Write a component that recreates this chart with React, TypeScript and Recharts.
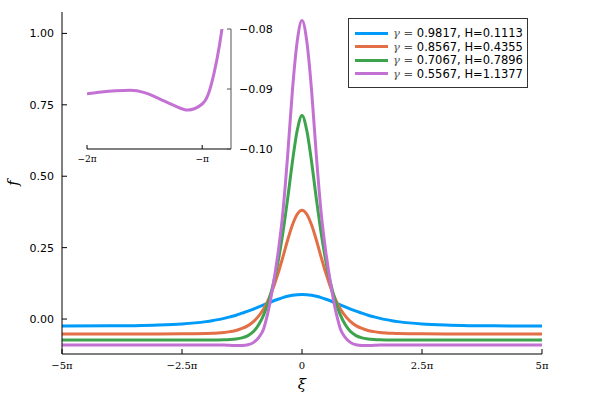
import { Line, LineChart, XAxis, YAxis } from "recharts";

// ξ positions, in units of π
const xs = [
  -5, -4, -3.5, -3, -2.5, -2, -1.875, -1.75, -1.625, -1.5, -1.375, -1.25, -1.125, -1, -0.9, -0.8, -0.75, -0.7, -0.6, -0.5,
  -0.4, -0.3, -0.2, -0.1, 0, 0.1, 0.2, 0.3, 0.4, 0.5, 0.6, 0.7, 0.75, 0.8, 0.9, 1, 1.125, 1.25, 1.375, 1.5, 1.625, 1.75,
  1.875, 2, 2.5, 3, 3.5, 4, 5,
];

const blue = [
  -0.0244, -0.0239, -0.0231, -0.0213, -0.0174, -0.009, -0.0059, -0.0021, 0.0024, 0.0076, 0.0134, 0.0205, 0.0276, 0.0357,
  0.0424, 0.0494, 0.0529, 0.0564, 0.0631, 0.0693, 0.0749, 0.0796, 0.0831, 0.0853, 0.086, 0.0853, 0.0831, 0.0796, 0.0749,
  0.0693, 0.0631, 0.0564, 0.0529, 0.0494, 0.0424, 0.0357, 0.0276, 0.0205, 0.0134, 0.0076, 0.0024, -0.0021, -0.0059, -0.009,
  -0.0174, -0.0213, -0.0231, -0.0239, -0.0244,
];

const orange = [
  -0.052, -0.052, -0.052, -0.052, -0.0518, -0.0506, -0.05, -0.0488, -0.047, -0.044, -0.04, -0.033, -0.023, -0.007, 0.011,
  0.035, 0.05, 0.068, 0.109, 0.159, 0.216, 0.276, 0.329, 0.367, 0.381, 0.367, 0.329, 0.276, 0.216, 0.159, 0.109, 0.068, 0.05,
  0.035, 0.011, -0.007, -0.023, -0.033, -0.04, -0.044, -0.047, -0.0488, -0.05, -0.0506, -0.0518, -0.052, -0.052, -0.052,
  -0.052,
];

const green = [
  -0.073, -0.073, -0.073, -0.073, -0.073, -0.073, -0.073, -0.073, -0.0728, -0.072, -0.07, -0.066, -0.058, -0.042, -0.019,
  0.014, 0.035, 0.06, 0.122, 0.2, 0.3, 0.42, 0.55, 0.66, 0.713, 0.66, 0.55, 0.42, 0.3, 0.2, 0.122, 0.06, 0.035, 0.014,
  -0.019, -0.042, -0.058, -0.066, -0.07, -0.072, -0.0728, -0.073, -0.073, -0.073, -0.073, -0.073, -0.073, -0.073, -0.073,
];

const purple = [
  -0.0908, -0.0908, -0.0908, -0.0908, -0.0908, -0.0908, -0.0906, -0.0906, -0.091, -0.092, -0.0928, -0.0925, -0.0902,
  -0.081, -0.064, -0.035, -0.005, 0.03, 0.12, 0.23, 0.37, 0.57, 0.8, 0.972, 1.045, 0.972, 0.8, 0.57, 0.37, 0.23, 0.12, 0.03,
  -0.005, -0.035, -0.064, -0.081, -0.0902, -0.0925, -0.0928, -0.092, -0.091, -0.0906, -0.0906, -0.0908, -0.0908, -0.0908,
  -0.0908, -0.0908, -0.0908,
];

// inset: close-up of the left tail of the last curve
const insetX = [-2, -1.875, -1.75, -1.625, -1.5, -1.375, -1.25, -1.125, -1, -0.95, -0.9, -0.85, -0.8];
const insetY = [
  -0.0908, -0.0905, -0.0903, -0.0902, -0.0906, -0.0916, -0.0927, -0.0935, -0.0925, -0.091, -0.0876, -0.0827, -0.076,
];

const gammas = ["0.9817", "0.8567", "0.7067", "0.5567"];
const hValues = ["0.1113", "0.4355", "0.7896", "1.1377"];
const colors = ["#009AF9", "#E26F46", "#3DA44D", "#C371D2"];
const keys = ["b", "o", "g", "p"];

const xTicks = [-5, -2.5, 0, 2.5, 5];
const yTicks = [0, 0.25, 0.5, 0.75, 1];
const insetXTicks = [-2, -1];
const insetYTicks = [-0.1, -0.09, -0.08];

const data = xs.map((x, i) => ({ x, b: blue[i], o: orange[i], g: green[i], p: purple[i] }));
const insetData = insetX.map((x, i) => ({ x, p: insetY[i] }));

const SERIF = "'DejaVu Serif', 'Liberation Serif', serif";
const SANS = "'DejaVu Sans', sans-serif";

function piLabel(v: number) {
  if (v === 0) return "0";
  const sign = v < 0 ? "\u2212" : "";
  const a = Math.abs(v);
  return sign + (a === 1 ? "" : String(a)) + "\u03c0";
}

function num(v: number) {
  return v.toFixed(2).replace("-", "\u2212");
}

const LeftTick = ({ x, y, payload }: any) => (
  <g>
    <line x1={x} x2={x + 5} y1={y} y2={y} stroke="#000" />
    <text x={x - 8} y={y} dy={4} textAnchor="end" fontSize={11} fontFamily={SANS} fill="#000">
      {num(payload.value)}
    </text>
  </g>
);

const BottomTick = ({ x, y, payload }: any) => (
  <g>
    <line x1={x} x2={x} y1={y} y2={y - 5} stroke="#000" />
    <text x={x} y={y + 15} textAnchor="middle" fontSize={10} fontFamily={SERIF} fill="#000">
      {piLabel(payload.value)}
    </text>
  </g>
);

const RightTick = ({ x, y, payload }: any) => (
  <g>
    <line x1={x} x2={x - 4} y1={y} y2={y} stroke="#555" />
    <text x={x + 8} y={y} dy={4} textAnchor="start" fontSize={11} fontFamily={SANS} fill="#000">
      {num(payload.value)}
    </text>
  </g>
);

const InsetBottomTick = ({ x, y, payload }: any) => (
  <g>
    <line x1={x} x2={x} y1={y} y2={y - 4} stroke="#000" />
    <text x={x} y={y + 13} textAnchor="middle" fontSize={9} fontFamily={SERIF} fill="#000">
      {piLabel(payload.value)}
    </text>
  </g>
);

export default function App() {
  return (
    <div style={{ position: "relative", width: 600, height: 400, background: "#fff" }}>
      <style>{"body{margin:0}"}</style>
      <LineChart width={600} height={400} data={data} margin={{ top: 12, right: 58, bottom: 16, left: 12 }}>
        <XAxis
          dataKey="x"
          type="number"
          domain={[-5, 5]}
          ticks={xTicks}
          allowDataOverflow
          height={30}
          tickSize={0}
          tickMargin={0}
          tickLine={false}
          tick={BottomTick}
          axisLine={{ stroke: "#000" }}
        />
        <YAxis
          type="number"
          domain={[-0.1224, 1.075]}
          ticks={yTicks}
          allowDataOverflow
          width={50}
          tickSize={0}
          tickMargin={0}
          tickLine={false}
          tick={LeftTick}
          axisLine={{ stroke: "#000" }}
        />
        {keys.map((k, i) => (
          <Line
            key={k}
            type="monotone"
            dataKey={k}
            stroke={colors[i]}
            strokeWidth={3}
            dot={false}
            activeDot={false}
            isAnimationActive={false}
          />
        ))}
      </LineChart>

      <div style={{ position: "absolute", left: 0, top: 0 }}>
        <LineChart width={300} height={180} data={insetData} margin={{ top: 29, right: 9, bottom: 11, left: 87 }}>
          <XAxis
            dataKey="x"
            type="number"
            domain={[-2, -0.75]}
            ticks={insetXTicks}
            allowDataOverflow
            height={20}
            tickSize={0}
            tickMargin={0}
            tickLine={false}
            tick={InsetBottomTick}
            axisLine={{ stroke: "#000" }}
          />
          <YAxis
            orientation="right"
            type="number"
            domain={[-0.1, -0.08]}
            ticks={insetYTicks}
            allowDataOverflow
            width={60}
            tickSize={0}
            tickMargin={0}
            tickLine={false}
            tick={RightTick}
            axisLine={{ stroke: "#555" }}
          />
          <Line
            type="monotone"
            dataKey="p"
            stroke={colors[3]}
            strokeWidth={3}
            dot={false}
            activeDot={false}
            isAnimationActive={false}
          />
        </LineChart>
      </div>

      <div
        style={{
          position: "absolute",
          left: 348,
          top: 18,
          width: 180,
          height: 70,
          boxSizing: "border-box",
          border: "1px solid #333",
          background: "#fff",
        }}
      >
        {gammas.map((g, i) => (
          <div
            key={g}
            style={{ position: "absolute", left: 0, top: 7 + i * 13.5, height: 14, width: 178, display: "flex", alignItems: "center" }}
          >
            <div style={{ marginLeft: 6, width: 33, height: 3, background: colors[i] }} />
            <span style={{ marginLeft: 5, fontSize: 11.5, fontFamily: SANS, color: "#000", whiteSpace: "nowrap" }}>
              <span style={{ fontFamily: SERIF, fontStyle: "italic", color: "#555" }}>γ</span>
              <span style={{ color: "#555" }}> = </span>
              {g}, H={hValues[i]}
            </span>
          </div>
        ))}
      </div>

      <div
        style={{
          position: "absolute",
          left: 13,
          top: 183,
          transform: "translate(-50%, -50%) rotate(-90deg)",
          fontFamily: SERIF,
          fontStyle: "italic",
          fontSize: 15,
        }}
      >
        f
      </div>
      <div
        style={{
          position: "absolute",
          left: 302,
          top: 384,
          transform: "translate(-50%, -50%)",
          fontFamily: SERIF,
          fontStyle: "italic",
          fontSize: 15,
        }}
      >
        ξ
      </div>
    </div>
  );
}
